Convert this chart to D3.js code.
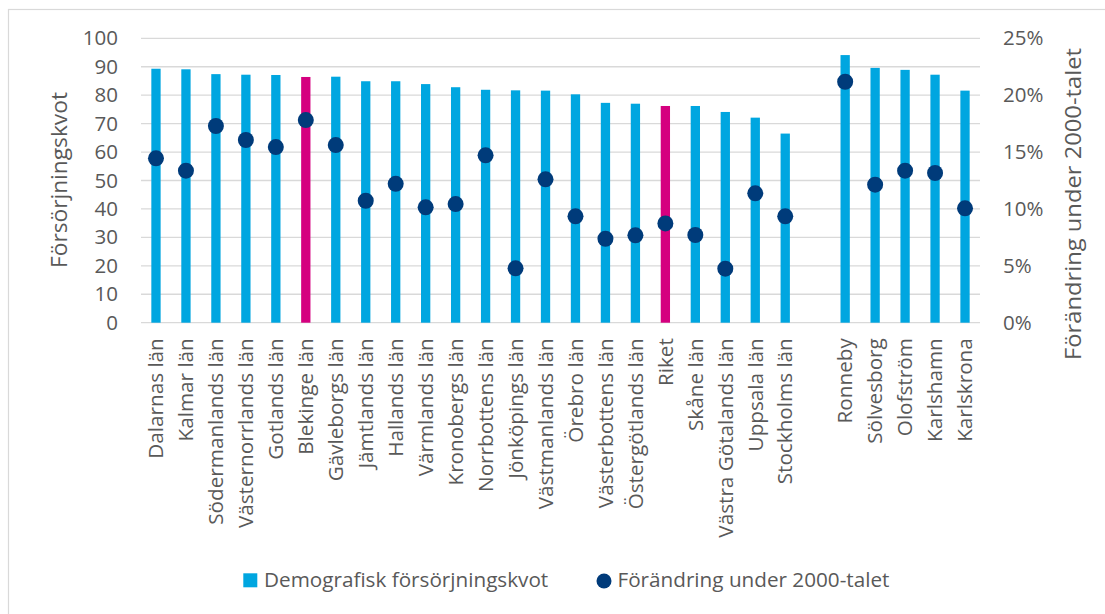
<!DOCTYPE html>
<html>
<head>
<meta charset="utf-8">
<script src="https://cdn.jsdelivr.net/npm/d3@7"></script>
<style>
  html, body { margin: 0; padding: 0; background: #fff; }
  svg { display: block; font-family: "Open Sans", sans-serif; }
</style>
</head>
<body>
<div id="chart"></div>
<script>
// ---- data ----
const counties = ["Dalarnas län","Kalmar län","Södermanlands län","Västernorrlands län","Gotlands län","Blekinge län","Gävleborgs län","Jämtlands län","Hallands län","Värmlands län","Kronobergs län","Norrbottens län","Jönköpings län","Västmanlands län","Örebro län","Västerbottens län","Östergötlands län","Riket","Skåne län","Västra Götalands län","Uppsala län","Stockholms län"];
const countyRatio = [89.3,89.1,87.4,87.2,87.1,86.4,86.5,84.9,84.9,83.9,82.8,81.9,81.7,81.6,80.3,77.3,77.0,76.2,76.2,74.1,72.1,66.5];
const countyChange = [0.1445,0.1336,0.1729,0.1606,0.1544,0.1781,0.1561,0.1072,0.1221,0.1014,0.1043,0.1471,0.0478,0.1260,0.0935,0.0738,0.0768,0.0873,0.0771,0.0475,0.1137,0.0935];
const municipalities = ["Ronneby","Sölvesborg","Olofström","Karlshamn","Karlskrona"];
const muniRatio = [94.1,89.6,88.9,87.2,81.6];
const muniChange = [0.2118,0.1213,0.1336,0.1316,0.1005];
const highlighted = ["Blekinge län","Riket"];
const leftTicks = [0,10,20,30,40,50,60,70,80,90,100];
const rightTicks = [0,0.05,0.10,0.15,0.20,0.25];
const seriesNames = ["Demografisk försörjningskvot","Förändring under 2000-talet"];
const axisTitles = ["Försörjningskvot","Förändring under 2000-talet"];

// ---- build rows ----
const SPACER = "__spacer__";
const domain = counties.concat([SPACER], municipalities);
const rows = counties.map((c,i)=>({name:c, ratio:countyRatio[i], change:countyChange[i]}))
  .concat(municipalities.map((c,i)=>({name:c, ratio:muniRatio[i], change:muniChange[i]})));

const W = 1105, H = 614;
const plot = {left:141, right:980, top:38.3, bottom:322.7};
const colBar = "#00A6E0", colHi = "#D5007F", colDot = "#003B7A", colText = "#595959", colGrid = "#D9D9D9";

const svg = d3.select("#chart").append("svg").attr("width", W).attr("height", H);

// outer frame
svg.append("rect").attr("x",8.5).attr("y",9.5).attr("width",W+10).attr("height",H+10)
  .attr("fill","none").attr("stroke",colGrid).attr("stroke-width",1.2);

const x = d3.scaleBand().domain(domain).range([plot.left, plot.right]).paddingInner(0).paddingOuter(0);
const yL = d3.scaleLinear().domain([0,100]).range([plot.bottom, plot.top]);
const yR = d3.scaleLinear().domain([0,0.25]).range([plot.bottom, plot.top]);

// gridlines
svg.append("g").selectAll("line").data(leftTicks).join("line")
  .attr("x1",plot.left).attr("x2",plot.right)
  .attr("y1",d=>yL(d)).attr("y2",d=>yL(d))
  .attr("stroke",colGrid).attr("stroke-width",1.3);

// left axis
const gL = svg.append("g").attr("transform",`translate(${plot.left},0)`)
  .call(d3.axisLeft(yL).tickValues(leftTicks).tickSize(0).tickPadding(23));
gL.select(".domain").remove();
gL.selectAll("text").attr("fill",colText).style("font-size","20.5px").style("font-family","'Open Sans', sans-serif");

// right axis
const gR = svg.append("g").attr("transform",`translate(${plot.right},0)`)
  .call(d3.axisRight(yR).tickValues(rightTicks).tickSize(0).tickPadding(23).tickFormat(d3.format(".0%")));
gR.select(".domain").remove();
gR.selectAll("text").attr("fill",colText).style("font-size","20.5px").style("font-family","'Open Sans', sans-serif");

// bars
const bw = 9.3;
svg.append("g").selectAll("rect").data(rows).join("rect")
  .attr("x",d=>x(d.name)+x.bandwidth()/2-bw/2)
  .attr("width",bw)
  .attr("y",d=>yL(d.ratio))
  .attr("height",d=>yL(0)-yL(d.ratio))
  .attr("fill",d=>highlighted.includes(d.name)?colHi:colBar);

// dots
svg.append("g").selectAll("circle").data(rows).join("circle")
  .attr("cx",d=>x(d.name)+x.bandwidth()/2)
  .attr("cy",d=>yR(d.change))
  .attr("r",8)
  .attr("fill",colDot);

// category labels
const gX = svg.append("g").attr("transform",`translate(0,${plot.bottom})`)
  .call(d3.axisBottom(x).tickSize(0).tickFormat(d=>d===SPACER?"":d));
gX.select(".domain").remove();
gX.selectAll("text")
  .attr("fill",colText).style("font-size","20.7px").style("font-family","'Open Sans', sans-serif")
  .attr("text-anchor","end")
  .attr("transform","rotate(-90)")
  .attr("x",-15.5).attr("y",0).attr("dy","0.35em");

// axis titles
svg.append("text").attr("transform","translate(60,180) rotate(-90)")
  .attr("text-anchor","middle").attr("dy","0.35em")
  .attr("fill",colText).style("font-size","21px")
  .attr("textLength",176).attr("lengthAdjust","spacingAndGlyphs").text(axisTitles[0]);
svg.append("text").attr("transform","translate(1073,204) rotate(-90)")
  .attr("text-anchor","middle").attr("dy","0.35em")
  .attr("fill",colText).style("font-size","22px")
  .attr("textLength",312).attr("lengthAdjust","spacingAndGlyphs").text(axisTitles[1]);

// legend
const lg = svg.append("g");
lg.append("rect").attr("x",243.3).attr("y",573.3).attr("width",14).attr("height",14).attr("fill",colBar);
lg.append("text").attr("x",264).attr("y",587.3).attr("fill",colText)
  .style("font-size","20.7px").text(seriesNames[0]);
lg.append("circle").attr("cx",604).attr("cy",581).attr("r",7.5).attr("fill",colDot);
lg.append("text").attr("x",617.5).attr("y",587.3).attr("fill",colText)
  .style("font-size","20.7px").text(seriesNames[1]);
</script>
</body>
</html>
